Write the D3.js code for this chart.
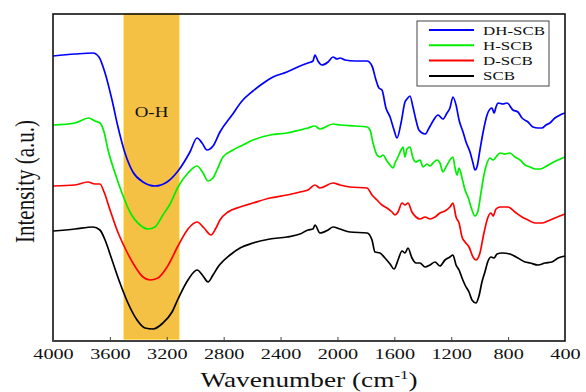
<!DOCTYPE html>
<html>
<head>
<meta charset="utf-8">
<script src="https://cdn.jsdelivr.net/npm/d3@7"></script>
<style>
  body { margin: 0; background: #fff; }
  svg text { font-family: "Liberation Serif", "Times New Roman", Times, "DejaVu Serif", serif !important; fill: #111; }
</style>
</head>
<body>
<div id="chart"></div>
<script>
// series: [wavenumber, intensity (a.u.)]
var dhScb = [[4000,285],[3845,287],[3719,288],[3677,284],[3634,268],[3585,241],[3543,214],[3494,188],[3438,169],[3367,159],[3283,155],[3198,159],[3121,170],[3037,189],[2987,203],[2952,198],[2917,191],[2875,195],[2826,209],[2741,226],[2671,240],[2594,250],[2530,257],[2453,264],[2355,269],[2263,275],[2207,278],[2172,280],[2158,286],[2137,280],[2109,276],[2066,279],[2031,284],[2003,282],[1982,283],[1947,281],[1877,280],[1792,280],[1757,275],[1729,261],[1708,253],[1687,251],[1659,233],[1630,224],[1602,211],[1581,203],[1553,218],[1525,239],[1511,242],[1490,245],[1469,234],[1448,221],[1427,211],[1384,207],[1356,213],[1328,220],[1293,226],[1258,222],[1230,228],[1209,233],[1188,244],[1166,236],[1145,221],[1117,209],[1096,199],[1068,189],[1047,178],[1033,171],[1019,174],[998,191],[977,208],[948,226],[927,232],[913,233],[899,228],[885,234],[871,238],[836,237],[808,238],[766,231],[731,229],[702,223],[660,219],[625,214],[590,213],[562,213],[534,216],[506,218],[471,223],[435,226],[400,228]];

var hScb = [[4000,216],[3845,218],[3747,223],[3705,220],[3670,218],[3641,209],[3613,191],[3564,168],[3515,148],[3459,129],[3388,116],[3332,112],[3283,114],[3227,126],[3177,137],[3121,154],[3051,168],[2987,175],[2945,168],[2910,160],[2875,163],[2847,171],[2805,184],[2734,191],[2664,196],[2594,201],[2474,206],[2355,208],[2263,211],[2207,213],[2158,215],[2123,212],[2031,217],[1982,216],[1877,215],[1792,214],[1771,211],[1750,198],[1722,186],[1701,184],[1680,186],[1652,180],[1630,176],[1609,173],[1595,178],[1574,184],[1553,191],[1539,194],[1525,184],[1511,192],[1490,194],[1469,183],[1448,179],[1420,181],[1398,174],[1370,177],[1349,175],[1328,178],[1300,181],[1279,178],[1258,169],[1237,174],[1209,181],[1188,184],[1173,173],[1159,166],[1145,173],[1124,163],[1103,151],[1082,144],[1054,131],[1033,125],[1012,130],[991,148],[970,166],[948,178],[927,183],[906,181],[885,184],[857,188],[822,187],[787,188],[752,184],[716,181],[681,176],[646,174],[611,172],[576,172],[541,174],[492,178],[449,181],[400,184]];

var dScb = [[4000,155],[3845,156],[3754,159],[3705,157],[3670,157],[3641,149],[3599,131],[3550,111],[3494,93],[3438,78],[3367,64],[3318,61],[3262,63],[3198,74],[3121,95],[3051,112],[2987,119],[2938,113],[2889,106],[2854,113],[2826,121],[2770,129],[2685,134],[2594,138],[2474,143],[2355,146],[2263,149],[2207,151],[2158,156],[2123,153],[2031,158],[1982,156],[1912,154],[1792,153],[1757,146],[1722,141],[1687,136],[1652,133],[1616,129],[1595,126],[1574,129],[1546,138],[1525,136],[1504,138],[1476,129],[1448,124],[1420,122],[1384,124],[1349,122],[1314,124],[1279,128],[1244,130],[1209,134],[1188,138],[1166,124],[1145,118],[1124,104],[1103,99],[1075,94],[1047,84],[1026,81],[998,88],[970,108],[941,124],[920,128],[906,125],[885,132],[857,134],[801,134],[752,129],[702,124],[660,121],[611,118],[562,118],[520,120],[471,123],[400,127]];

var scb = [[4000,110],[3845,112],[3719,114],[3670,111],[3634,101],[3585,81],[3529,58],[3473,38],[3409,21],[3353,13],[3297,12],[3227,18],[3163,29],[3121,42],[3051,61],[2987,71],[2945,65],[2910,59],[2875,66],[2840,74],[2755,86],[2685,93],[2594,98],[2474,102],[2355,104],[2263,107],[2207,111],[2172,112],[2158,116],[2123,108],[2066,111],[2031,114],[1982,112],[1912,109],[1792,108],[1757,101],[1736,89],[1701,88],[1666,83],[1630,77],[1602,72],[1574,81],[1546,90],[1525,88],[1504,93],[1476,83],[1448,78],[1420,78],[1384,74],[1349,76],[1314,79],[1279,75],[1244,81],[1209,84],[1188,86],[1166,76],[1145,71],[1124,63],[1103,56],[1075,49],[1054,41],[1026,38],[1005,45],[984,59],[963,69],[941,80],[920,84],[899,83],[878,87],[843,88],[787,87],[731,83],[681,79],[646,78],[590,76],[541,78],[492,79],[449,83],[400,85]];

var seriesNames = ["DH-SCB", "H-SCB", "D-SCB", "SCB"];
var seriesData = [dhScb, hScb, dScb, scb];
var seriesColors = ["#0000ff", "#00ee00", "#ff0000", "#000000"];

var xTicks = [4000, 3600, 3200, 2800, 2400, 2000, 1600, 1200, 800, 400];
var ohBand = [3500, 3115];

var margin = { top: 14, right: 21, bottom: 51, left: 53 },
    width = 586 - margin.left - margin.right,
    height = 392 - margin.top - margin.bottom;
var stretch = 1.35; // the original glyphs look wide
var serif = "'Liberation Serif', 'Times New Roman', Times, serif";

var x = d3.scaleLinear().domain([4000, 400]).range([0, width]);
var y = d3.scaleLinear().domain([0, height]).range([height, 0]);

var svg = d3.select("#chart").append("svg")
    .attr("width", 586)
    .attr("height", 392)
    .attr("font-family", serif)
  .append("g")
    .attr("transform", "translate(" + margin.left + "," + margin.top + ")");

// O-H band
svg.append("rect")
    .attr("x", x(ohBand[0]))
    .attr("y", 0)
    .attr("width", x(ohBand[1]) - x(ohBand[0]))
    .attr("height", height - 2)
    .style("fill", "#f4c145")
    .style("stroke", "#ffc20e")
    .style("stroke-width", 1);

svg.append("text")
    .attr("transform", "translate(" + ((x(ohBand[0]) + x(ohBand[1])) / 2) + ",103) scale(" + stretch + ",1)")
    .attr("text-anchor", "middle")
    .attr("font-family", serif)
    .style("font-size", "14px")
    .text("O-H");

var line = d3.line()
    .x(function (d) { return x(d[0]); })
    .y(function (d) { return y(d[1]); })
    .curve(d3.curveMonotoneX);

svg.selectAll(".spec")
    .data(seriesData.slice().reverse())
  .enter().append("path")
    .attr("class", "spec")
    .attr("d", line)
    .style("fill", "none")
    .style("stroke-width", 1.7)
    .style("stroke", function (d) { return seriesColors[seriesData.indexOf(d)]; });

// frame
svg.append("rect")
    .attr("width", width)
    .attr("height", height)
    .style("fill", "none")
    .style("stroke", "#111")
    .style("stroke-width", 1.6);

// x axis
var xAxis = svg.append("g")
    .attr("transform", "translate(0," + height + ")")
    .call(d3.axisBottom(x).tickValues(xTicks).tickSize(-4).tickFormat(d3.format("d")));
xAxis.attr("font-family", serif);
xAxis.select(".domain").remove();
xAxis.selectAll(".tick line").style("stroke", "#444");
xAxis.selectAll(".tick text")
    .attr("y", 18)
    .attr("dy", 0)
    .attr("transform", "scale(" + stretch + ",1)")
    .attr("font-family", serif)
    .style("font-size", "15px")
    .style("fill", "#111");

var xTitle = svg.append("text")
    .attr("transform", "translate(" + (width / 2) + "," + (height + 46) + ") scale(1.3,1)")
    .attr("text-anchor", "middle")
    .attr("font-family", serif)
    .style("font-size", "21px");
xTitle.append("tspan").text("Wavenumber (cm");
xTitle.append("tspan").attr("dy", -8).style("font-size", "13px").text("-1");
xTitle.append("tspan").attr("dy", 8).text(")");

svg.append("text")
    .attr("transform", "translate(-19," + (height / 2 + 4) + ") scale(" + stretch + ",1) rotate(-90)")
    .attr("text-anchor", "middle")
    .attr("font-family", serif)
    .style("font-size", "21px")
    .text("Intensity (a.u.)");

// legend
var legend = svg.append("g")
    .attr("transform", "translate(" + (417 - margin.left) + "," + (21 - margin.top) + ")");
legend.append("rect")
    .attr("width", 132)
    .attr("height", 65)
    .style("fill", "#fff")
    .style("stroke", "#444")
    .style("stroke-width", 1);
var items = legend.selectAll(".item")
    .data(seriesNames)
  .enter().append("g")
    .attr("class", "item")
    .attr("transform", function (d, i) { return "translate(0," + (9 + i * 15.3) + ")"; });
items.append("line")
    .attr("x1", 12)
    .attr("x2", 57)
    .style("stroke-width", 2)
    .style("stroke", function (d, i) { return seriesColors[i]; });
items.append("text")
    .attr("transform", "translate(66,4.5) scale(1.3,1)")
    .attr("font-family", serif)
    .style("font-size", "13px")
    .text(function (d) { return d; });
</script>
</body>
</html>
